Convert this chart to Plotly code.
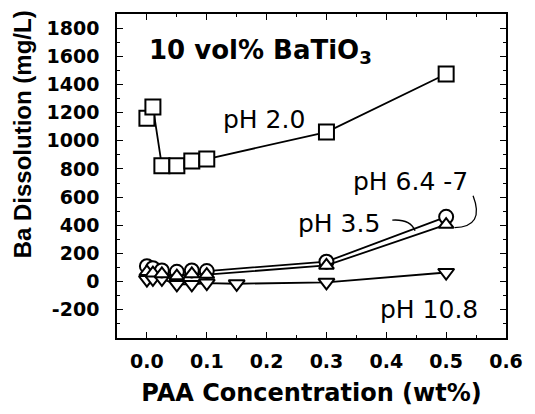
import plotly.graph_objects as go

# ---- data ----
x_ph2 = [0, 0.01, 0.025, 0.05, 0.075, 0.1, 0.3, 0.5]
y_ph2 = [1160, 1240, 822, 822, 856, 870, 1062, 1474]

x_ph35 = [0, 0.01, 0.025, 0.05, 0.075, 0.1, 0.3, 0.5]
y_ph35 = [110, 95, 80, 70, 80, 75, 142, 460]

x_ph64 = [0, 0.01, 0.025, 0.05, 0.075, 0.1, 0.3, 0.5]
y_ph64 = [70, 60, 55, 40, 55, 50, 115, 405]

x_ph108 = [0, 0.01, 0.025, 0.05, 0.075, 0.1, 0.15, 0.3, 0.5]
y_ph108 = [15, 20, 20, -20, -20, -10, -15, -5, 65]

x_ticks = [0.0, 0.1, 0.2, 0.3, 0.4, 0.5, 0.6]
y_ticks = [-200, 0, 200, 400, 600, 800, 1000, 1200, 1400, 1600, 1800]

WIDE = "DejaVu Sans, Verdana, sans-serif"
ARIAL = "Liberation Sans, Arial, sans-serif"

fig = go.Figure()

def add(x, y, symbol, size):
    fig.add_trace(go.Scatter(
        x=x, y=y, mode="lines+markers",
        line=dict(color="black", width=1.8),
        marker=dict(symbol=symbol, size=size, color="white",
                    line=dict(color="black", width=2)),
        showlegend=False, cliponaxis=False))

add(x_ph108, y_ph108, "triangle-down", 14)
add(x_ph35, y_ph35, "circle", 14)
add(x_ph64, y_ph64, "triangle-up", 13)
add(x_ph2, y_ph2, "square", 15)

axis_common = dict(
    showline=True, linecolor="black", linewidth=1.6, mirror="allticks",
    ticks="inside", ticklen=6, tickwidth=1.3, tickcolor="black",
    showgrid=False, zeroline=False,
    tickfont=dict(family=WIDE, size=19, color="black", weight="bold"),
)

fig.update_xaxes(
    range=[-0.05, 0.6], tickvals=x_ticks,
    ticktext=[f"{v:.1f}" for v in x_ticks],
    ticklabelstandoff=5,
    minor=dict(dtick=0.05, ticks="inside", ticklen=3, tickcolor="black"),
    title=dict(text="<b>PAA Concentration (wt%)</b>",
               font=dict(family=WIDE, size=24, color="black"), standoff=14),
    **axis_common)
fig.update_yaxes(
    range=[-400, 1900], tickvals=y_ticks,
    ticktext=[str(v) for v in y_ticks],
    ticklabelstandoff=12,
    minor=dict(dtick=100, ticks="inside", ticklen=3, tickcolor="black"),
    **axis_common)

# y axis title (placed like the reference, above the axis centre)
fig.add_annotation(x=-0.243, y=0.63, xref="paper", yref="paper",
                   xanchor="center", yanchor="middle", textangle=-90,
                   text="<b>Ba Dissolution (mg/L)</b>", showarrow=False,
                   font=dict(family=ARIAL, size=24, color="black"))

ann_font = dict(family=WIDE, size=25, color="black")
fig.add_annotation(x=0.0, y=1632, xref="x", yref="y", xanchor="left",
                   text="<b>10 vol% BaTiO<sub>3</sub></b>", showarrow=False,
                   font=dict(family=WIDE, size=26, color="black"))
fig.add_annotation(x=0.196, y=1150, text="pH 2.0", showarrow=False, font=ann_font)
fig.add_annotation(x=0.44, y=710, text="pH 6.4 -7", showarrow=False, font=ann_font)
fig.add_annotation(x=0.321, y=410, text="pH 3.5", showarrow=False, font=ann_font)
fig.add_annotation(x=0.471, y=-200, text="pH 10.8", showarrow=False, font=ann_font)

# leader lines
fig.add_shape(type="path", xref="x", yref="y",
              path="M 0.41,437 Q 0.44,445 0.448,362",
              line=dict(color="black", width=1.3))
fig.add_shape(type="path", xref="x", yref="y",
              path="M 0.545,609 Q 0.565,390 0.514,383",
              line=dict(color="black", width=1.3))

fig.update_layout(
    width=535, height=414,
    margin=dict(l=117, r=19, t=12, b=67),
    paper_bgcolor="white", plot_bgcolor="white",
    font=dict(family=WIDE, color="black"),
)

fig.write_html("out.html")
